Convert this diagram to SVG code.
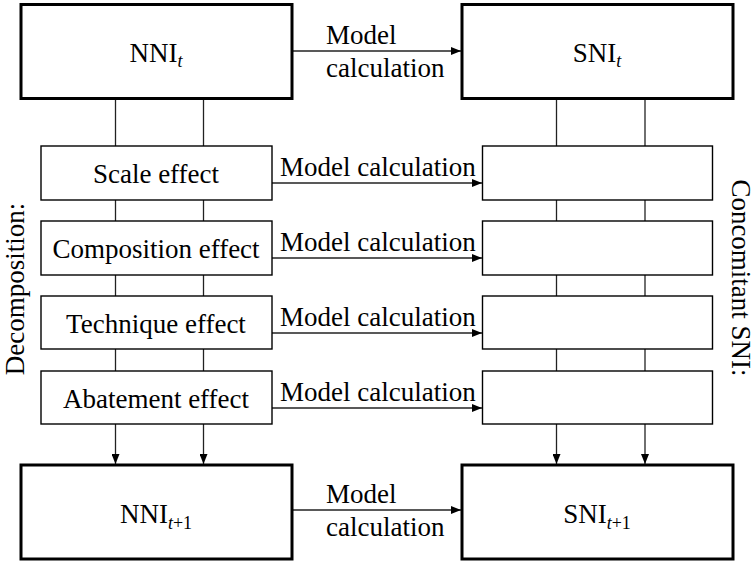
<svg xmlns="http://www.w3.org/2000/svg" width="756" height="562" viewBox="0 0 756 562">
<style>
text{font-family:"Liberation Serif","Times New Roman",serif;font-size:27px;fill:#000}
.thick{fill:#fff;stroke:#000;stroke-width:3}
.thin{fill:#fff;stroke:#000;stroke-width:1.4}
.ln{stroke:#222;stroke-width:1.3;fill:none}
.arr{stroke:#222;stroke-width:1.3;fill:none;marker-end:url(#ah)}
.sub{font-size:18px;font-style:italic}
.subn{font-size:18px;font-style:normal}
.c{text-anchor:middle}
</style>
<defs>
<marker id="ah" markerWidth="10" markerHeight="8" refX="10" refY="4" orient="auto" markerUnits="userSpaceOnUse">
<path d="M0,0 L10,4 L0,8 Z" fill="#000"/>
</marker>
</defs>
<g id="connectors">
<line class="arr" x1="293" y1="51" x2="461" y2="51"/>
<line class="arr" x1="293" y1="510" x2="461" y2="510"/>
<line class="arr" x1="272" y1="183" x2="482" y2="183"/>
<line class="arr" x1="272" y1="258" x2="482" y2="258"/>
<line class="arr" x1="272" y1="333" x2="482" y2="333"/>
<line class="arr" x1="272" y1="408" x2="482" y2="408"/>
<line class="ln" x1="115.5" y1="99" x2="115.5" y2="146"/>
<line class="ln" x1="203.5" y1="99" x2="203.5" y2="146"/>
<line class="ln" x1="115.5" y1="200" x2="115.5" y2="221"/>
<line class="ln" x1="203.5" y1="200" x2="203.5" y2="221"/>
<line class="ln" x1="115.5" y1="275" x2="115.5" y2="296"/>
<line class="ln" x1="203.5" y1="275" x2="203.5" y2="296"/>
<line class="ln" x1="115.5" y1="349" x2="115.5" y2="371"/>
<line class="ln" x1="203.5" y1="349" x2="203.5" y2="371"/>
<line class="arr" x1="115.5" y1="424" x2="115.5" y2="464"/>
<line class="arr" x1="203.5" y1="424" x2="203.5" y2="464"/>
<line class="ln" x1="556.5" y1="99" x2="556.5" y2="146"/>
<line class="ln" x1="645" y1="99" x2="645" y2="146"/>
<line class="ln" x1="556.5" y1="200" x2="556.5" y2="221"/>
<line class="ln" x1="645" y1="200" x2="645" y2="221"/>
<line class="ln" x1="556.5" y1="275" x2="556.5" y2="296"/>
<line class="ln" x1="645" y1="275" x2="645" y2="296"/>
<line class="ln" x1="556.5" y1="349" x2="556.5" y2="371"/>
<line class="ln" x1="645" y1="349" x2="645" y2="371"/>
<line class="arr" x1="556.5" y1="424" x2="556.5" y2="464"/>
<line class="arr" x1="645" y1="424" x2="645" y2="464"/>
<text x="326" y="44">Model</text>
<text x="326" y="77">calculation</text>
<text x="326" y="503">Model</text>
<text x="326" y="536">calculation</text>
<text x="280" y="176">Model calculation</text>
<text x="280" y="251">Model calculation</text>
<text x="280" y="326">Model calculation</text>
<text x="280" y="401">Model calculation</text>
</g>
<g id="nni-t">
<rect class="thick" x="21" y="4.5" width="271" height="94"/>
<text x="156" y="62" class="c">NNI<tspan class="sub" dy="5">t</tspan></text>
</g>
<g id="sni-t">
<rect class="thick" x="462" y="4.5" width="271" height="94"/>
<text x="597" y="62" class="c">SNI<tspan class="sub" dy="5">t</tspan></text>
</g>
<g id="scale">
<rect class="thin" x="41" y="146" width="231" height="54"/>
<text x="156" y="183" class="c">Scale effect</text>
</g>
<g id="composition">
<rect class="thin" x="41" y="221" width="231" height="54"/>
<text x="156" y="258" class="c">Composition effect</text>
</g>
<g id="technique">
<rect class="thin" x="41" y="296" width="231" height="53"/>
<text x="156" y="333" class="c">Technique effect</text>
</g>
<g id="abatement">
<rect class="thin" x="41" y="371" width="231" height="53"/>
<text x="156" y="408" class="c">Abatement effect</text>
</g>
<g id="r-scale"><rect class="thin" x="482.5" y="146" width="230" height="54"/></g>
<g id="r-composition"><rect class="thin" x="482.5" y="221" width="230" height="54"/></g>
<g id="r-technique"><rect class="thin" x="482.5" y="296" width="230" height="53"/></g>
<g id="r-abatement"><rect class="thin" x="482.5" y="371" width="230" height="53"/></g>
<g id="nni-t1">
<rect class="thick" x="21" y="465" width="271" height="94"/>
<text x="156" y="523" class="c">NNI<tspan class="sub" dy="6">t</tspan><tspan class="subn">+1</tspan></text>
</g>
<g id="sni-t1">
<rect class="thick" x="462" y="465" width="271" height="94"/>
<text x="597" y="523" class="c">SNI<tspan class="sub" dy="6">t</tspan><tspan class="subn">+1</tspan></text>
</g>
<g id="decomposition">
<text class="c" transform="translate(24,289) rotate(-90)">Decomposition:</text>
</g>
<g id="concomitant">
<text class="c" transform="translate(732,278) rotate(90)">Concomitant SNI:</text>
</g>
</svg>
